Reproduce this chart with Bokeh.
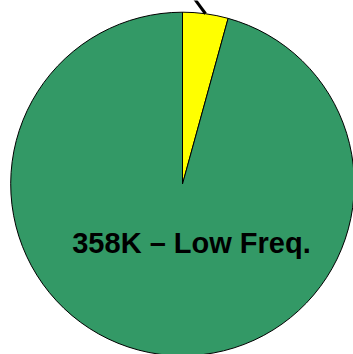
import math
from bokeh.plotting import figure
from bokeh.models import Range1d, ColumnDataSource
from bokeh.core.properties import value
from bokeh.embed import file_html
from bokeh.resources import INLINE

# Segment sizes in thousands, drawn clockwise from 12 o'clock
segments = ["High Freq.", "Low Freq."]
counts_k = [16, 358]
colors = ["#FFFF00", "#339966"]

W, H = 353, 354
p = figure(width=W, height=H, output_backend="svg", toolbar_location=None,
           x_range=Range1d(0, W), y_range=Range1d(0, H), min_border=0)
p.axis.visible = False
p.grid.visible = False
p.outline_line_color = None
p.background_fill_color = "white"
p.border_fill_color = "white"

cx, cy, r = 182.0, H - 183.5, 171.8

total = sum(counts_k)
starts, ends = [], []
top = math.pi / 2
for c in counts_k:
    sweep = 2 * math.pi * c / total
    # clockwise slice expressed as an anticlockwise wedge
    starts.append(top - sweep)
    ends.append(top)
    top -= sweep

src = ColumnDataSource(dict(x=[cx] * len(counts_k), y=[cy] * len(counts_k),
                            start=starts, end=ends, color=colors, name=segments))
p.wedge(x="x", y="y", radius=r, start_angle="start", end_angle="end",
        direction="anticlock", fill_color="color", line_color="black",
        line_width=1, source=src)

# leader line from the small slice outward
mid = (starts[0] + ends[0]) / 2
x0, y0 = cx + r * math.cos(mid), cy + r * math.sin(mid)
p.line([x0, x0 - 14], [y0, y0 + 19], line_color="black", line_width=3)

p.text(x=[191], y=[H - 242.5], text=[f"{counts_k[1]}K \u2013 Low Freq."],
       text_font=value("Liberation Sans"), text_font_style="bold",
       text_font_size="29px", text_align="center",
       text_baseline="alphabetic", text_color="black")

open("out.html", "w").write(file_html(p, INLINE))
